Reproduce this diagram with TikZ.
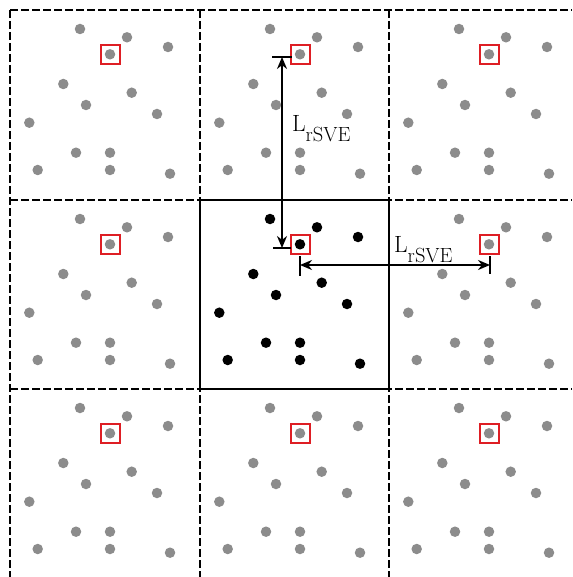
\documentclass[tikz,border=0pt]{standalone}
\usetikzlibrary{arrows.meta}
\definecolor{dotgray}{RGB}{140,140,140}
\definecolor{boxred}{RGB}{222,30,36}
\newcommand{\lrsve}{\fontsize{23.5}{23.5}\selectfont L\raisebox{-10pt}{\fontsize{20.5}{20.5}\selectfont rSVE}}
\tikzset{
  gridline/.style={line width=2.3pt, dash pattern=on 8pt off 3pt},
  solidline/.style={line width=2.3pt},
  graydot/.style={circle, fill=dotgray, inner sep=0pt, minimum size=10.5pt},
  blackdot/.style={circle, fill=black, inner sep=0pt, minimum size=10.5pt},
  redbox/.style={draw=boxred, line width=2pt, minimum size=19pt, inner sep=0pt},
  dimline/.style={line width=2.2pt, {Stealth[length=12pt,width=10pt]}-{Stealth[length=12pt,width=10pt]}},
  dimbar/.style={line width=2.2pt},
  dimlabel/.style={inner sep=0pt, anchor=base west}
}
\begin{document}
\begin{tikzpicture}[x=1pt, y=-1pt]
\useasboundingbox (0,0) rectangle (572,577);
% grid
\foreach \gx in {10,200,389}
  \draw[gridline] (\gx,10) -- (\gx,577);
\foreach \gy in {10,200,389}
  \draw[gridline] (10,\gy) -- (572,\gy);
\draw[solidline] (200,200) rectangle (389,389);
% dots
\foreach \ox/\ix in {10/0,200/1,389/2}{
  \foreach \oy/\iy in {10/0,200/1,389/2}{
    \ifnum\ix=1 \ifnum\iy=1 \def\dotstyle{blackdot}\else\def\dotstyle{graydot}\fi\else\def\dotstyle{graydot}\fi
    \foreach \px/\py [count=\k] in {70/19,117/27.3,158/37,100/44.3,53.3/74,121.7/82.7,76/95,147/104,19.3/112.7,66/142.7,100/142.7,27.7/160,100/160,160/163.7}
      \node[\dotstyle] (d\ix\iy-\k) at (\ox+\px,\oy+\py) {};
    \node[redbox] (r\ix\iy) at (\ox+100,\oy+44.3) {};
  }
}
% vertical dimension
\coordinate (vt) at (282,57);
\coordinate (vb) at (282,248);
\coordinate (vtl) at (272,57);
\coordinate (vtr) at (292,57);
\coordinate (vbl) at (273,248);
\coordinate (vbr) at (291,248);
\draw[dimbar] (vtl) -- (vtr);
\draw[dimbar] (vbl) -- (vbr);
\draw[dimline] (vt) -- (vb);
\node[dimlabel] (lv) at (292,132) {\lrsve};
% horizontal dimension
\coordinate (hl) at (300,265);
\coordinate (hr) at (490,265);
\coordinate (hlt) at (300,256);
\coordinate (hlb) at (300,276);
\coordinate (hrt) at (490,256);
\coordinate (hrb) at (490,274);
\draw[dimbar] (hlt) -- (hlb);
\draw[dimbar] (hrt) -- (hrb);
\draw[dimline] (hl) -- (hr);
\node[dimlabel] (lh) at (394,252) {\lrsve};
\end{tikzpicture}
\end{document}
